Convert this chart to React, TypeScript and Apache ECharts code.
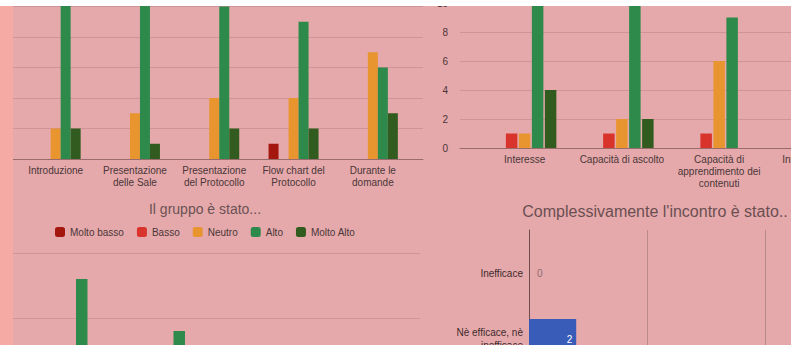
import React, { useEffect, useRef } from "react";
import * as echarts from "echarts";

const levels = ["Molto basso", "Basso", "Neutro", "Alto", "Molto Alto"];
const levelColors = ["#a3170f", "#d8342c", "#e8952f", "#2e8a4b", "#325c1f"];

const topLeftCategories = [
  "Introduzione",
  "Presentazione\ndelle Sale",
  "Presentazione\ndel Protocollo",
  "Flow chart del\nProtocollo",
  "Durante le\ndomande",
];
const topLeftMoltoBasso = [0, 0, 0, 1, 0];
const topLeftBasso = [0, 0, 0, 0, 0];
const topLeftNeutro = [2, 3, 4, 4, 7];
const topLeftAlto = [12, 12, 10, 9, 6];
const topLeftMoltoAlto = [2, 1, 2, 2, 3];

const topRightCategories = [
  "Interesse",
  "Capacità di ascolto",
  "Capacità di\napprendimento dei\ncontenuti",
  "Interazione con\nil gruppo",
];
const topRightMoltoBasso = [0, 0, 0, 0];
const topRightBasso = [1, 1, 1, 0];
const topRightNeutro = [1, 2, 6, 3];
const topRightAlto = [10, 11, 9, 9];
const topRightMoltoAlto = [4, 2, 0, 4];

const bottomLeftTitle = "Il gruppo è stato...";
const bottomLeftCategories = ["Accogliente", "Collaborativo", "Partecipe", "Disponibile"];
const bottomLeftMoltoBasso = [0, 0, 0, 0];
const bottomLeftBasso = [0, 0, 1, 0];
const bottomLeftNeutro = [1, 2, 6, 4];
const bottomLeftAlto = [13, 9, 7, 7];
const bottomLeftMoltoAlto = [2, 5, 2, 5];

const bottomRightTitle = "Complessivamente l'incontro è stato..";
const bottomRightCategories = [
  "Inefficace",
  "Nè efficace, nè\ninefficace",
  "Efficace",
  "Molto efficace",
];
const bottomRightValues = [0, 2, 10, 4];

const FONT = "'Liberation Sans', Arial, sans-serif";
const BG = "#e6a9ab";
const GRID_COLOR = "#cf9497";
const AXIS_COLOR = "#9a6b6c";
const LABEL_COLOR = "#4a3638";

// the chart canvas is larger than the visible window and shifted up,
// so that the photographed charts can be cut at the window's edges
const OY = 40;

export default function App() {
  const ref = useRef<HTMLDivElement>(null);

  useEffect(() => {
    if (!ref.current) return;
    const chart = echarts.init(ref.current, undefined, { renderer: "svg" });

    const topLeftSeries = [topLeftMoltoBasso, topLeftBasso, topLeftNeutro, topLeftAlto, topLeftMoltoAlto];
    const topRightSeries = [topRightMoltoBasso, topRightBasso, topRightNeutro, topRightAlto, topRightMoltoAlto];
    const bottomLeftSeries = [
      bottomLeftMoltoBasso,
      bottomLeftBasso,
      bottomLeftNeutro,
      bottomLeftAlto,
      bottomLeftMoltoAlto,
    ];

    const hiddenAxis = {
      axisLine: { show: false },
      axisTick: { show: false },
      axisLabel: { show: false },
      splitLine: { show: false },
    };

    const series: any[] = [];
    levels.forEach((name, i) => {
      series.push({
        name,
        type: "bar",
        xAxisIndex: 1,
        yAxisIndex: 1,
        data: topLeftSeries[i],
        barWidth: 10,
        barGap: "0%",
        itemStyle: { color: levelColors[i] },
      });
      series.push({
        name,
        type: "bar",
        xAxisIndex: 3,
        yAxisIndex: 3,
        data: topRightSeries[i],
        barWidth: 11.5,
        barGap: "13%",
        itemStyle: { color: levelColors[i] },
      });
      series.push({
        name,
        type: "bar",
        xAxisIndex: 5,
        yAxisIndex: 5,
        data: bottomLeftSeries[i],
        barWidth: 11.5,
        barGap: "13%",
        itemStyle: { color: levelColors[i] },
      });
    });
    series.push({
      name: "Risposte",
      type: "bar",
      xAxisIndex: 7,
      yAxisIndex: 7,
      barWidth: 40,
      itemStyle: { color: "#3a5cb9" },
      data: bottomRightValues.map((v) => ({
        value: v,
        label: {
          show: true,
          position: v > 1 ? "insideRight" : "right",
          distance: v > 1 ? 4 : 8,
          color: v > 1 ? "#ffffff" : "#8a6c6e",
          fontSize: 10,
          fontFamily: FONT,
        },
      })),
    });

    chart.setOption({
      animation: false,
      backgroundColor: BG,
      textStyle: { fontFamily: FONT },
      title: [
        {
          text: bottomLeftTitle,
          left: 205,
          top: 202 + OY,
          padding: 0,
          textAlign: "center",
          textStyle: { fontSize: 14, fontWeight: "normal", color: "#6a5254", fontFamily: FONT },
        },
        {
          text: bottomRightTitle,
          left: 655,
          top: 203 + OY,
          padding: 0,
          textAlign: "center",
          textStyle: { fontSize: 16, fontWeight: "normal", color: "#6a4f52", fontFamily: FONT },
        },
      ],
      legend: {
        data: levels,
        left: 50,
        top: 222 + OY,
        itemWidth: 10,
        itemHeight: 10,
        itemGap: 13,
        icon: "roundRect",
        textStyle: { fontSize: 10, color: LABEL_COLOR, fontFamily: FONT },
        selectedMode: false,
      },
      grid: [
        { left: 13, top: -24 + OY, width: 410, height: 183 },
        { left: 16, top: -24 + OY, width: 396.5, height: 183 },
        { left: 460, top: -26 + OY, width: 400, height: 174 },
        { left: 476, top: -26 + OY, width: 389, height: 174 },
        { left: 13, top: 253 + OY, width: 407, height: 195 },
        { left: 20, top: 253 + OY, width: 390, height: 195 },
        { left: 529, top: 230 + OY, width: 354, height: 300 },
        { left: 529, top: 240 + OY, width: 354, height: 264 },
      ],
      xAxis: [
        {
          gridIndex: 0,
          type: "category",
          data: [""],
          axisLine: { show: true, lineStyle: { color: AXIS_COLOR, width: 1 } },
          axisTick: { show: false },
          axisLabel: { show: false },
        },
        {
          gridIndex: 1,
          type: "category",
          data: topLeftCategories,
          axisLine: { show: false },
          axisTick: { show: false },
          axisLabel: {
            fontSize: 10,
            lineHeight: 12,
            color: LABEL_COLOR,
            margin: 5,
            interval: 0,
            fontFamily: FONT,
          },
        },
        {
          gridIndex: 2,
          type: "category",
          data: [""],
          axisLine: { show: true, lineStyle: { color: AXIS_COLOR, width: 1 } },
          axisTick: { show: false },
          axisLabel: { show: false },
        },
        {
          gridIndex: 3,
          type: "category",
          data: topRightCategories,
          axisLine: { show: false },
          axisTick: { show: false },
          axisLabel: {
            fontSize: 10,
            lineHeight: 12,
            color: LABEL_COLOR,
            margin: 5,
            interval: 0,
            fontFamily: FONT,
          },
        },
        {
          gridIndex: 4,
          type: "category",
          data: [""],
          axisLine: { show: true, lineStyle: { color: AXIS_COLOR } },
          axisTick: { show: false },
          axisLabel: { show: false },
        },
        { gridIndex: 5, type: "category", data: bottomLeftCategories, ...hiddenAxis },
        {
          gridIndex: 6,
          type: "value",
          min: 0,
          max: 15,
          interval: 5,
          axisLine: { show: false },
          axisTick: { show: false },
          axisLabel: { show: false },
          splitLine: { show: true, lineStyle: { color: "#b98a8c", width: 1 } },
        },
        { gridIndex: 7, type: "value", min: 0, max: 15, interval: 5, ...hiddenAxis },
      ],
      yAxis: [
        {
          gridIndex: 0,
          type: "value",
          min: 0,
          max: 12,
          interval: 2,
          axisLine: { show: false },
          axisTick: { show: false },
          axisLabel: { show: false },
          splitLine: { show: true, lineStyle: { color: GRID_COLOR } },
        },
        { gridIndex: 1, type: "value", min: 0, max: 12, interval: 2, ...hiddenAxis },
        {
          gridIndex: 2,
          type: "value",
          min: 0,
          max: 12,
          interval: 2,
          axisLine: { show: false },
          axisTick: { show: false },
          axisLabel: { show: true, fontSize: 10, color: LABEL_COLOR, margin: 12, fontFamily: FONT },
          splitLine: { show: true, lineStyle: { color: GRID_COLOR } },
        },
        { gridIndex: 3, type: "value", min: 0, max: 12, interval: 2, ...hiddenAxis },
        {
          gridIndex: 4,
          type: "value",
          min: 0,
          max: 15,
          interval: 5,
          axisLine: { show: false },
          axisTick: { show: false },
          axisLabel: { show: false },
          splitLine: { show: true, lineStyle: { color: GRID_COLOR } },
        },
        { gridIndex: 5, type: "value", min: 0, max: 15, interval: 5, ...hiddenAxis },
        {
          gridIndex: 6,
          type: "category",
          data: [""],
          axisLine: { show: true, lineStyle: { color: "#6e4c4f", width: 1 } },
          axisTick: { show: false },
          axisLabel: { show: false },
        },
        {
          gridIndex: 7,
          type: "category",
          inverse: true,
          data: bottomRightCategories,
          axisLine: { show: false },
          axisTick: { show: false },
          axisLabel: {
            fontSize: 10,
            lineHeight: 13,
            color: "#3e2b2d",
            margin: 6,
            align: "right",
            fontFamily: FONT,
          },
        },
      ],
      series,
      graphic: [
        {
          type: "rect",
          z: 100,
          shape: { x: 0, y: 0, width: 13, height: 345 + OY + 200 },
          style: { fill: "#f5aaa4" },
        },
        {
          type: "rect",
          z: 101,
          shape: { x: 0, y: 0, width: 1000, height: 6 + OY },
          style: { fill: "#ffffff" },
        },
      ],
    });

    return () => chart.dispose();
  }, []);

  return (
    <div
      style={{
        position: "fixed",
        left: 0,
        top: 0,
        width: 791,
        height: 345,
        overflow: "hidden",
        background: "#ffffff",
      }}
    >
      <div
        ref={ref}
        style={{ position: "absolute", left: 0, top: -OY, width: 1000, height: 345 + OY + 200 }}
      />
    </div>
  );
}
